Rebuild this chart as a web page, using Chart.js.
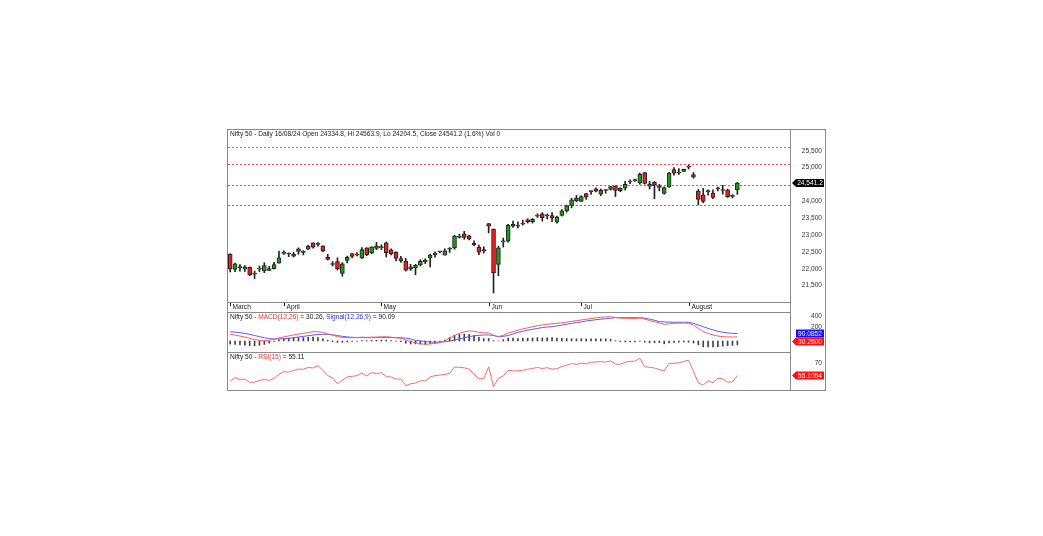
<!DOCTYPE html>
<html>
<head>
<meta charset="utf-8">
<script src="https://cdn.jsdelivr.net/npm/chart.js@4.4.1/dist/chart.umd.min.js"></script>
<style>
body { margin: 0; background: #fff; font-family: "Liberation Sans", Arial, sans-serif; }
#wrap { position: relative; width: 1043px; height: 536px; overflow: hidden; }
canvas { position: absolute; }
.ln { position: absolute; background: #8a8a8a; }
.t { position: absolute; font-size: 6.6px; line-height: 8px; color: #222; white-space: nowrap; }
.r { color: #f03030; }
.b { color: #3030f0; }
</style>
</head>
<body>
<div id="wrap">
	<canvas id="mainChart" width="597" height="182" style="left:228px;top:130px"></canvas>
	<canvas id="macdChart" width="597" height="40" style="left:228px;top:312px"></canvas>
	<canvas id="rsiChart" width="597" height="38" style="left:228px;top:352px"></canvas>

	<div class="ln" style="left:227px;top:129px;width:599px;height:1px"></div>
	<div class="ln" style="left:227px;top:390px;width:599px;height:1px"></div>
	<div class="ln" style="left:227px;top:129px;width:1px;height:262px"></div>
	<div class="ln" style="left:825px;top:129px;width:1px;height:262px"></div>
	<div class="ln" style="left:790px;top:129px;width:1px;height:262px"></div>
	<div class="ln" style="left:227px;top:302px;width:564px;height:1px"></div>
	<div class="ln" style="left:227px;top:312px;width:564px;height:1px"></div>
	<div class="ln" style="left:227px;top:352px;width:564px;height:1px"></div>

	<div class="t" style="left:230px;top:130px">Nifty 50 - Daily 16/08/24 Open 24334.8, Hi 24563.9, Lo 24204.5, Close 24541.2 (1.6%) Vol 0</div>
	<div class="t" style="left:230px;top:313px">Nifty 50 - <span class="r">MACD(12,26)</span> = 30.26, <span class="b">Signal(12,26,9)</span> = 90.09</div>
	<div class="t" style="left:230px;top:353px">Nifty 50 - <span class="r">RSI(15)</span> = 55.11</div>
</div>
<script>
// trading days shown, 13 Mar to 16 Aug 2024
const dates = [
	'13/03','14/03','15/03','18/03','19/03','20/03','21/03','22/03','26/03','27/03','28/03',
	'01/04','02/04','03/04','04/04','05/04','08/04','09/04','10/04','12/04','15/04','16/04','18/04','19/04','22/04','23/04','24/04','25/04','26/04','29/04','30/04',
	'02/05','03/05','06/05','07/05','08/05','09/05','10/05','13/05','14/05','15/05','16/05','17/05','18/05','21/05','22/05','23/05','24/05','27/05','28/05','29/05','30/05','31/05',
	'03/06','04/06','05/06','06/06','07/06','10/06','11/06','12/06','13/06','14/06','18/06','19/06','20/06','21/06','24/06','25/06','26/06','27/06','28/06',
	'01/07','02/07','03/07','04/07','05/07','08/07','09/07','10/07','11/07','12/07','15/07','16/07','18/07','19/07','22/07','23/07','24/07','25/07','26/07','29/07','30/07','31/07',
	'01/08','02/08','05/08','06/08','07/08','08/08','09/08','12/08','13/08','14/08','16/08'
];
const monthNames = { '03': 'March', '04': 'April', '05': 'May', '06': 'Jun', '07': 'Jul', '08': 'August' };

const opens = [
	22432,21982,22064,21990,22046,21843,21989,21932,21947,22005,22163,
	22455,22436,22370,22592,22486,22579,22766,22720,22677,22340,22125,22213,21863,22250,22448,22422,22317,22620,22475,22679,
	22625,22767,22561,22489,22231,22224,21990,22028,22112,22255,22319,22415,22512,22405,22577,22615,22930,23038,22977,22763,22636,22568,
	23338,23179,22128,22798,22821,23320,23284,23344,23453,23399,23570,23629,23586,23580,23383,23578,23723,23881,24085,
	23993,24229,24292,24369,24214,24330,24352,24459,24388,24388,24572,24615,24543,24853,24445,24568,24444,24230,24424,24943,24839,24887,
	25030,24790,24303,24190,24289,24247,24386,24321,24343,24184,24335
];
const highs = [
	22446,22166,22121,22095,22054,21930,22081,22180,22074,22193,22516,
	22530,22471,22486,22620,22537,22697,22768,22776,22677,22427,22213,22326,22180,22376,22448,22476,22626,22621,22655,22783,
	22711,22795,22589,22499,22368,22307,22131,22132,22270,22298,22432,22502,22520,22592,22629,22993,23027,23110,22998,22825,22705,22653,
	23339,23180,22671,22910,23320,23412,23389,23442,23481,23491,23631,23665,23625,23668,23558,23754,23889,24087,24175,
	24165,24237,24309,24401,24364,24345,24444,24462,24403,24592,24636,24661,24837,24854,24595,24583,24504,24426,24862,24999,24971,24956,
	25078,24852,24350,24382,24337,24340,24420,24473,24360,24196,24564
];
const lows = [
	21905,21917,21931,21918,21794,21710,21916,21883,21947,21997,22163,
	22428,22359,22347,22428,22410,22569,22612,22673,22503,22259,22080,21961,21778,22172,22320,22384,22305,22385,22441,22568,
	22567,22348,22409,22232,22185,21932,21950,21821,22082,22151,22055,22345,22470,22404,22483,22577,22908,22872,22858,22685,22417,22465,
	23062,21281,21792,22642,22789,23227,23207,23295,23354,23354,23520,23413,23477,23399,23350,23563,23674,23805,23986,
	23993,24057,24207,24281,24169,24240,24331,24141,24285,24332,24522,24587,24504,24508,24363,24075,24307,24211,24410,24774,24798,24884,
	24956,24686,23894,23960,24185,24079,24311,24213,24116,24099,24205
];
const closes = [
	21998,22147,22023,22056,21817,21839,22012,22097,22005,22124,22327,
	22462,22453,22435,22515,22514,22666,22643,22754,22519,22273,22147,21996,22147,22336,22368,22402,22570,22420,22643,22605,
	22648,22476,22443,22303,22303,21958,22055,22104,22218,22201,22404,22466,22502,22529,22598,22968,22957,22932,22888,22705,22489,22531,
	23264,21885,22620,22821,23290,23259,23265,23323,23399,23466,23558,23516,23567,23501,23538,23721,23869,24045,24011,
	24142,24124,24287,24302,24324,24321,24433,24324,24316,24502,24587,24613,24801,24531,24509,24479,24414,24406,24835,24836,24857,24951,
	25011,24718,24056,23993,24298,24117,24368,24347,24139,24144,24541.2
];

const macd = [
	76,62,45,28,5,-18,-30,-37,-30,-12,11,
	30,48,64,80,92,108,122,122,110,85,60,35,20,16,16,18,25,22,26,28,
	32,34,25,15,5,-25,-50,-73,-90,-101,-95,-85,-73,-40,10,60,94,118,135,130,112,100,
	104,60,34,60,100,122,150,172,190,210,230,241,252,262,270,280,292,305,318,
	330,342,355,367,377,385,388,375,362,359,358,357,365,345,318,299,275,253,262,270,272,274,
	271,240,182,125,90,65,45,35,30,28,30
];
const signal = [
	122,115,105,92,76,55,35,15,0,-7,-5,
	0,5,16,28,40,52,63,72,76,75,68,55,40,30,23,20,18,17,16,17,
	18,20,20,18,16,8,-5,-30,-42,-52,-60,-65,-62,-55,-45,-25,-5,15,35,50,58,64,
	66,55,34,40,55,80,112,130,148,165,180,195,205,211,225,240,255,270,285,
	295,312,322,335,345,352,360,370,370,370,370,370,370,362,345,325,299,295,292,290,290,289,
	289,270,240,211,180,155,130,112,100,94,90
];
const hist = [
	-46,-53,-60,-64,-71,-73,-65,-52,-30,-5,16,
	30,43,48,52,52,56,59,50,34,10,-8,-20,-20,-14,-7,-2,7,5,10,11,
	14,14,5,-3,-11,-33,-45,-43,-48,-49,-35,-20,-11,15,55,85,99,103,100,80,54,36,
	38,5,0,20,45,42,38,42,42,45,50,46,47,51,45,40,37,35,33,
	35,30,33,32,32,33,28,5,-8,-11,-12,-13,-5,-17,-27,-26,-24,-42,-30,-20,-18,-15,
	-18,-30,-58,-86,-90,-90,-85,-77,-70,-66,-60
];
const rsi = [
	48.7,52.6,50.5,50.8,47.2,47.3,49.5,50.5,49.5,52,56.5,
	59.5,59.2,61,62.5,62.4,64.5,63.8,66.5,61.5,55,52.5,45.5,49.5,53.5,54.2,55,58,54.5,58.5,57.5,
	58.3,54,53.4,51,51,43.5,45.5,46.4,49,48.7,53.5,55,55.7,56.3,57.7,65,64.6,64,62.5,57,51,51.8,
	65.3,42.1,52,54.7,61.3,60.4,60.5,61.3,62.5,63.3,64.5,63.2,64.2,62.5,63,65.5,67,69,68,
	69.5,68.7,70.5,70.8,71.2,70.8,72,68.4,68.1,70.6,71.6,71.8,75.1,65.3,64.6,63.8,62,60.3,69.3,69.3,69.8,71.4,
	73,60,46.4,44,49,46.7,51.9,51.2,47.5,47.7,55.1
];

const priceTicks = [21500, 22000, 22500, 23000, 23500, 24000, 24500, 25000, 25500];
const macdTicks = [200, 400];
const rsiTicks = [70];
const redLevels = [25610, 25115];
const blueLevels = [24490, 23890];
const macdLast = '30.2600';
const signalLast = '90.0852';
const rsiLast = '55.1054';

const FONT = '6.6px "Liberation Sans", Arial, sans-serif';
const X_MIN = -0.45;
const X_MAX = 115;
const AXIS_W = 34;

const xScale = { type: 'linear', display: false, offset: false, min: X_MIN, max: X_MAX };

function yLabels(chart, ticks, fmt) {
	const ctx = chart.ctx;
	const y = chart.scales.y;
	ctx.save();
	ctx.font = FONT;
	ctx.fillStyle = '#333';
	ctx.textAlign = 'right';
	ctx.textBaseline = 'middle';
	ticks.forEach(function (v) {
		ctx.fillText(fmt(v), chart.chartArea.right + 31, y.getPixelForValue(v));
	});
	ctx.restore();
}

function valueBox(chart, yc, text, bg, arrow) {
	const ctx = chart.ctx;
	const x0 = chart.chartArea.right + 1;
	const x1 = chart.chartArea.right + 33;
	const h = 8;
	ctx.save();
	ctx.fillStyle = bg;
	ctx.beginPath();
	if (arrow) {
		ctx.moveTo(x0, yc);
		ctx.lineTo(x0 + 4, yc - h / 2);
		ctx.lineTo(x1, yc - h / 2);
		ctx.lineTo(x1, yc + h / 2);
		ctx.lineTo(x0 + 4, yc + h / 2);
	} else {
		ctx.rect(x0 + 4, yc - h / 2, x1 - x0 - 4, h);
	}
	ctx.closePath();
	ctx.fill();
	ctx.font = FONT;
	ctx.fillStyle = '#fff';
	ctx.textAlign = 'center';
	ctx.textBaseline = 'middle';
	ctx.fillText(text, (x0 + 4 + x1) / 2, yc + 0.5);
	ctx.restore();
}

function levelLines(chart, levels, color) {
	const ctx = chart.ctx;
	const a = chart.chartArea;
	const y = chart.scales.y;
	ctx.save();
	ctx.lineWidth = 1;
	ctx.setLineDash([2, 2]);
	ctx.strokeStyle = color;
	levels.forEach(function (v) {
		const py = Math.round(y.getPixelForValue(v)) + 0.5;
		ctx.beginPath();
		ctx.moveTo(a.left, py);
		ctx.lineTo(a.right, py);
		ctx.stroke();
	});
	ctx.restore();
}

const mainDeco = {
	id: 'mainDeco',
	beforeDatasetsDraw(chart) {
		levelLines(chart, redLevels, '#ff4848');
		levelLines(chart, blueLevels, '#7070ff');
	},
	afterDraw(chart) {
		const ctx = chart.ctx;
		const a = chart.chartArea;
		const x = chart.scales.x;
		yLabels(chart, priceTicks, function (v) { return v.toLocaleString('en-US'); });
		// month labels under the price panel
		ctx.save();
		ctx.font = FONT;
		ctx.fillStyle = '#222';
		ctx.strokeStyle = '#222';
		ctx.lineWidth = 1;
		ctx.textBaseline = 'middle';
		let prev = '';
		dates.forEach(function (d, i) {
			const m = d.slice(3);
			if (m === prev) return;
			prev = m;
			const px = Math.round(x.getPixelForValue(i)) + 0.5;
			ctx.beginPath(); ctx.moveTo(px, a.bottom + 1); ctx.lineTo(px, a.bottom + 4); ctx.stroke();
			ctx.fillText(monthNames[m], px + 2, a.bottom + 5);
		});
		ctx.restore();
		const last = closes[closes.length - 1];
		valueBox(chart, chart.scales.y.getPixelForValue(last), last.toLocaleString('en-US', { minimumFractionDigits: 1 }), '#000', true);
	}
};

const macdDeco = {
	id: 'macdDeco',
	afterDraw(chart) {
		yLabels(chart, macdTicks, String);
		const y = chart.scales.y;
		const yb = y.getPixelForValue(signal[signal.length - 1]);
		valueBox(chart, yb, signalLast, '#1010ff', false);
		const yr = Math.max(y.getPixelForValue(macd[macd.length - 1]), yb + 8);
		valueBox(chart, yr, macdLast, '#ff1010', true);
	}
};

const rsiDeco = {
	id: 'rsiDeco',
	afterDraw(chart) {
		yLabels(chart, rsiTicks, String);
		valueBox(chart, chart.scales.y.getPixelForValue(rsi[rsi.length - 1]), rsiLast, '#ff1010', true);
	}
};

const common = {
	responsive: false,
	animation: false,
	events: [],
	devicePixelRatio: 1,
	plugins: { legend: { display: false }, tooltip: { enabled: false } }
};

const bodies = dates.map(function (d, i) { return { x: i, y: [opens[i], closes[i]] }; });
const wicks = dates.map(function (d, i) { return { x: i, y: [lows[i], highs[i]] }; });
const bodyColors = dates.map(function (d, i) { return closes[i] >= opens[i] ? '#12a012' : '#ee1c1c'; });

new Chart(document.getElementById('mainChart'), {
	type: 'bar',
	data: {
		datasets: [
			{
				label: 'body',
				data: bodies,
				backgroundColor: bodyColors,
				borderColor: '#222',
				borderWidth: 1,
				borderSkipped: false,
				barThickness: 4,
				minBarLength: 1,
				grouped: false
			},
			{
				label: 'wick',
				data: wicks,
				backgroundColor: '#222',
				borderWidth: 0,
				barThickness: 1,
				grouped: false
			}
		]
	},
	options: Object.assign({}, common, {
		layout: { padding: { left: 0, top: 0, right: AXIS_W, bottom: 10 } },
		scales: {
			x: xScale,
			y: { display: false, min: 21014, max: 26114 }
		}
	}),
	plugins: [mainDeco]
});

new Chart(document.getElementById('macdChart'), {
	type: 'bar',
	data: {
		datasets: [
			{
				type: 'line',
				label: 'MACD(12,26)',
				data: macd.map(function (v, i) { return { x: i, y: v }; }),
				borderColor: '#ff5c5c',
				borderWidth: 1,
				pointRadius: 0,
				yAxisID: 'y'
			},
			{
				type: 'line',
				label: 'Signal(12,26,9)',
				data: signal.map(function (v, i) { return { x: i, y: v }; }),
				borderColor: '#5a5aff',
				borderWidth: 1,
				pointRadius: 0,
				yAxisID: 'y'
			},
			{
				type: 'bar',
				label: 'Histogram',
				data: hist.map(function (v, i) { return { x: i, y: v }; }),
				backgroundColor: '#444',
				barThickness: 1,
				yAxisID: 'yh'
			}
		]
	},
	options: Object.assign({}, common, {
		layout: { padding: { left: 0, top: 0, right: AXIS_W, bottom: 0 } },
		scales: {
			x: xScale,
			y: { display: false, min: -237, max: 471 },
			yh: { display: false, min: -165, max: 435 }
		}
	}),
	plugins: [macdDeco]
});

new Chart(document.getElementById('rsiChart'), {
	type: 'line',
	data: {
		datasets: [
			{
				label: 'RSI(15)',
				data: rsi.map(function (v, i) { return { x: i, y: v }; }),
				borderColor: '#ff6a6a',
				borderWidth: 1,
				pointRadius: 0
			}
		]
	},
	options: Object.assign({}, common, {
		layout: { padding: { left: 0, top: 0, right: AXIS_W, bottom: 0 } },
		scales: {
			x: xScale,
			y: { display: false, min: 38.3, max: 82.4 }
		}
	}),
	plugins: [rsiDeco]
});
</script>
</body>
</html>
